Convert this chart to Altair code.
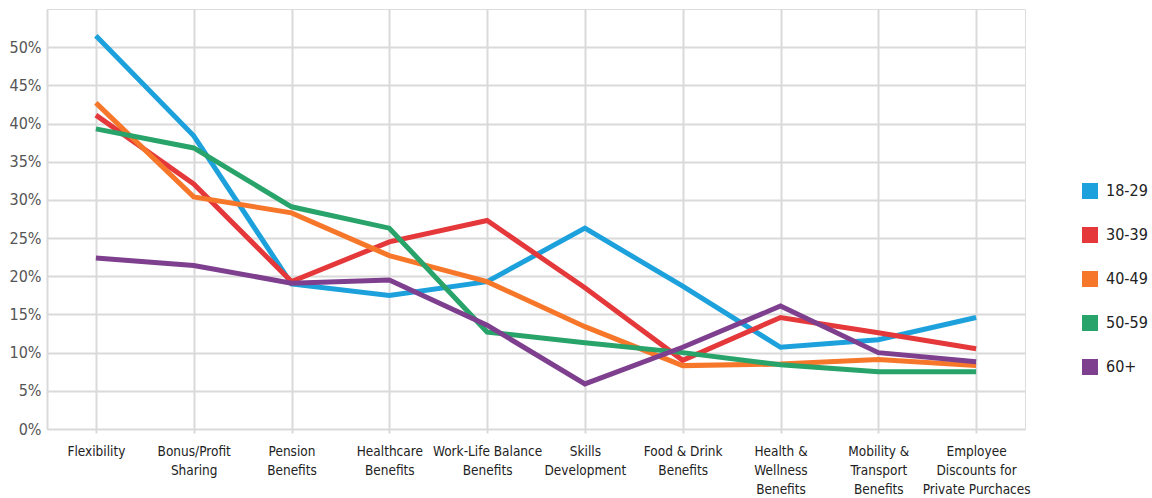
import altair as alt
import pandas as pd

# Benefit categories ("\n" marks a line break in the axis label)
categories = [
    "Flexibility",
    "Bonus/Profit\nSharing",
    "Pension\nBenefits",
    "Healthcare\nBenefits",
    "Work-Life Balance\nBenefits",
    "Skills\nDevelopment",
    "Food & Drink\nBenefits",
    "Health &\nWellness\nBenefits",
    "Mobility &\nTransport\nBenefits",
    "Employee\nDiscounts for\nPrivate Purchaces",
]

age_groups = ["18-29", "30-39", "40-49", "50-59", "60+"]
colors = ["#1da1dc", "#e5383b", "#f7772a", "#28a36a", "#7e3f8f"]

# Share of respondents per age group (percent)
age_18_29 = [51.5, 38.4, 19.0, 17.5, 19.3, 26.3, 18.7, 10.7, 11.7, 14.6]
age_30_39 = [41.1, 32.1, 19.3, 24.5, 27.3, 18.5, 9.0, 14.6, 12.6, 10.5]
age_40_49 = [42.7, 30.4, 28.3, 22.7, 19.3, 13.4, 8.3, 8.5, 9.1, 8.3]
age_50_59 = [39.3, 36.8, 29.1, 26.3, 12.7, 11.3, 10.0, 8.4, 7.5, 7.5]
age_60_plus = [22.4, 21.4, 19.1, 19.5, 13.6, 5.9, 10.7, 16.1, 10.0, 8.8]

series = [age_18_29, age_30_39, age_40_49, age_50_59, age_60_plus]

rows = []
for group, values in zip(age_groups, series):
    for cat, v in zip(categories, values):
        rows.append({"benefit": cat, "group": group, "share": v / 100})
df = pd.DataFrame(rows)

font = "DejaVu Sans Condensed, Liberation Sans Narrow, sans-serif"
grid_color = "#dadada"

x_enc = alt.X(
    "benefit:N",
    sort=categories,
    scale=alt.Scale(type="point", padding=0.5),
    axis=alt.Axis(
        title=None,
        domain=False,
        grid=True,
        gridColor=grid_color,
        gridWidth=2,
        ticks=True,
        tickSize=4,
        tickWidth=2,
        tickColor=grid_color,
        labelAngle=0,
        labelExpr="split(datum.label, '\\n')",
        labelFont=font,
        labelFontSize=13.5,
        labelColor="#222222",
        labelPadding=11,
        labelLineHeight=19,
        labelBaseline="top",
    ),
)

y_enc = alt.Y(
    "share:Q",
    scale=alt.Scale(domain=[0, 0.55], nice=False),
    axis=alt.Axis(
        title=None,
        values=[i / 100 for i in range(0, 55, 5)],
        format=".0%",
        domain=True,
        domainColor=grid_color,
        domainWidth=2,
        ticks=False,
        grid=True,
        gridColor=grid_color,
        gridWidth=2,
        labelFont=font,
        labelFontSize=16,
        labelColor="#555555",
        labelPadding=6,
    ),
)

color_scale = alt.Scale(domain=age_groups, range=colors)

base = alt.Chart(df).encode(x=x_enc, y=y_enc)

lines = base.mark_line(strokeWidth=5, strokeJoin="miter", strokeCap="butt").encode(
    color=alt.Color("group:N", sort=age_groups, scale=color_scale, legend=None),
)

# Invisible square points that carry the filled-square legend
keys = base.mark_square(filled=True, opacity=0, size=1).encode(
    color=alt.Color(
        "group:N",
        sort=age_groups,
        scale=color_scale,
        legend=alt.Legend(
            title=None,
            orient="none",
            legendX=1035,
            legendY=174,
            symbolType="square",
            symbolSize=256,
            symbolOpacity=1,
            symbolStrokeWidth=0,
            labelFont=font,
            labelFontSize=16,
            labelColor="#222222",
            labelOffset=8,
            rowPadding=28,
        ),
    ),
)

chart = (
    alt.layer(lines, keys)
    .resolve_legend(color="independent")
    .properties(
        width=978,
        height=420,
        padding={"left": 47, "top": 9, "right": 127, "bottom": 69},
        autosize=alt.AutoSizeParams(type="none"),
    )
    .configure_view(strokeWidth=0, stroke="transparent")
    .configure(background="white")
)

chart.save("out.html", embed_options={"renderer": "svg", "actions": False})
